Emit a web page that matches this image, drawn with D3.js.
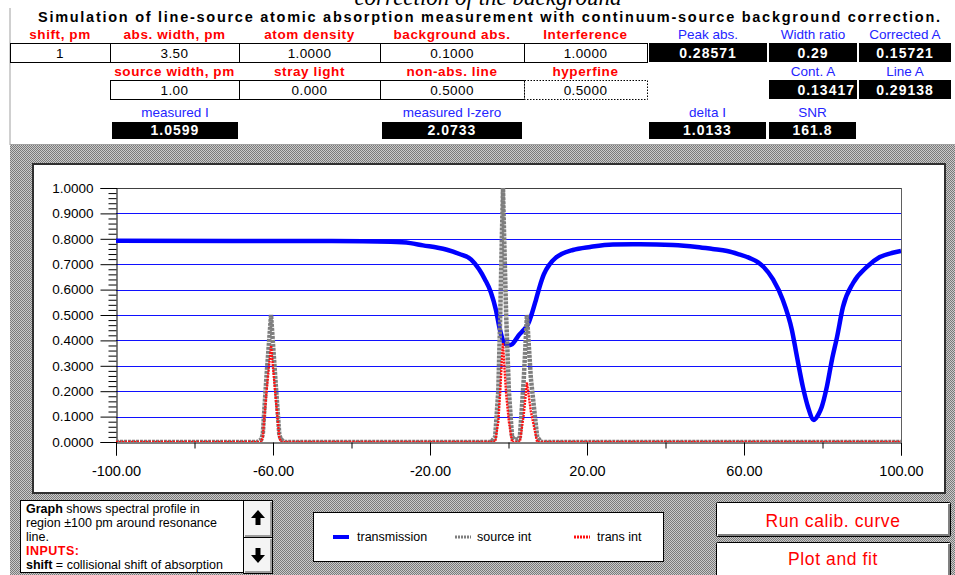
<!DOCTYPE html>
<html>
<head>
<meta charset="utf-8">
<script src="https://cdn.jsdelivr.net/npm/d3@7"></script>
<style>
  body { margin: 0; background: #fff; }
  svg { display: block; }
  text { font-family: "Liberation Sans", Arial, sans-serif; }
</style>
</head>
<body>
<svg id="chart" width="955" height="575"></svg>
<script>
// spreadsheet inputs / outputs
var inputLabels1 = ["shift, pm", "abs. width, pm", "atom density", "background abs.", "Interference"];
var inputValues1 = ["1", "3.50", "1.0000", "0.1000", "1.0000"];
var inputLabels2 = ["source width, pm", "stray light", "non-abs. line", "hyperfine"];
var inputValues2 = ["1.00", "0.000", "0.5000", "0.5000"];
var outLabels1 = ["Peak abs.", "Width ratio", "Corrected A"];
var outValues1 = ["0.28571", "0.29", "0.15721"];
var outLabels2 = ["Cont. A", "Line A"];
var outValues2 = ["0.13417", "0.29138"];
var outLabels3 = ["measured I", "measured I-zero", "delta I", "SNR"];
var outValues3 = ["1.0599", "2.0733", "1.0133", "161.8"];

// axis ticks
var yTicks = [0, 0.1, 0.2, 0.3, 0.4, 0.5, 0.6, 0.7, 0.8, 0.9, 1.0];
var xTicks = [-100, -60, -20, 20, 60, 100];
var xMinorTicks = [-80, -40, 0, 40, 80];

// series: transmission
var transX = [-100, -45, -30, -25, -21.8, -18, -15.7, -12.5, -9.5, -7.5, -6.0, -4.5, -3.2, -2.3, -1.4, -0.3, 0.6, 1.5, 2.5, 3.8, 5.0, 6.0, 7.0, 8.0, 9.0, 10.5, 12.0, 13.5, 16.4, 20.8, 26.6, 33.5, 41.9, 48.0, 52.0, 55.7, 58.5, 61.5, 63.5, 65.0, 67.4, 69.9, 72.2, 73.5, 75.0, 76.3, 77.8, 79.0, 79.8, 81.1, 82.4, 83.7, 85.2, 87.8, 91.3, 94.6, 97.9, 100];
var transY = [0.792, 0.791, 0.788, 0.783, 0.774, 0.765, 0.757, 0.740, 0.718, 0.680, 0.640, 0.590, 0.520, 0.450, 0.400, 0.383, 0.382, 0.395, 0.418, 0.440, 0.465, 0.508, 0.560, 0.615, 0.660, 0.700, 0.725, 0.740, 0.756, 0.768, 0.778, 0.779, 0.776, 0.768, 0.760, 0.752, 0.740, 0.724, 0.708, 0.689, 0.640, 0.559, 0.441, 0.335, 0.217, 0.138, 0.087, 0.110, 0.138, 0.217, 0.323, 0.413, 0.531, 0.626, 0.689, 0.728, 0.745, 0.752];

// series: source int
var sourceX = [-100, -64, -63, -62.6, -61.7, -60.5, -59.4, -58.4, -58, -57, -4.4, -3.4, -2.6, -2.1, -1.7, -1.4, -1.1, -0.6, 0.1, 0.9, 1.5, 2.4, 2.9, 3.9, 4.7, 5.7, 7.3, 8.3, 100];
var sourceY = [0, 0, 0.01, 0.03, 0.25, 0.5, 0.25, 0.03, 0.01, 0, 0, 0.02, 0.2, 0.5, 0.8, 1.0, 0.8, 0.5, 0.2, 0.02, 0.01, 0.01, 0.02, 0.25, 0.5, 0.25, 0.02, 0, 0];

// series: trans int
var transIntX = [-100, -63, -62.6, -61.7, -60.5, -59.4, -58.4, -58, -3.4, -2.6, -2.1, -1.7, -1.4, -1.1, -0.6, 0.1, 0.9, 2.9, 3.9, 4.7, 5.7, 7.3, 100];
var transIntY = [0, 0, 0.02, 0.19, 0.38, 0.19, 0.02, 0, 0, 0.08, 0.2, 0.32, 0.39, 0.31, 0.19, 0.08, 0, 0, 0.11, 0.235, 0.12, 0, 0];

var legendNames = ["transmission", "source int", "trans int"];

var svg = d3.select("#chart");
var defs = svg.append("defs");

var pat = defs.append("pattern").attr("id", "dither")
    .attr("width", 2).attr("height", 2).attr("patternUnits", "userSpaceOnUse");
pat.append("rect").attr("width", 2).attr("height", 2).attr("fill", "#cacaca");
pat.append("rect").attr("width", 1).attr("height", 1).attr("fill", "#7a7a7a");
pat.append("rect").attr("x", 1).attr("y", 1).attr("width", 1).attr("height", 1).attr("fill", "#7a7a7a");

// ---------- header sheet ----------
svg.append("text")
    .attr("x", 488).attr("y", 5)
    .attr("text-anchor", "middle")
    .style("font-family", "'Liberation Serif', 'DejaVu Serif', serif")
    .style("font-style", "italic")
    .style("font-size", "23px")
    .text("correction of the background");

svg.append("text")
    .attr("x", 38).attr("y", 22)
    .attr("textLength", 902).attr("lengthAdjust", "spacing")
    .style("font-size", "14.5px").style("font-weight", "bold")
    .text("Simulation of line-source atomic absorption measurement with continuum-source background correction.");

svg.append("line").attr("x1", 10).attr("x2", 10).attr("y1", 8).attr("y2", 145)
    .attr("stroke", "#a0a0a0");
svg.append("line").attr("x1", 10).attr("x2", 955).attr("y1", 144.5).attr("y2", 144.5)
    .attr("stroke", "#a0a0a0");

var inCols = [10, 110, 239, 380, 524, 647];
var outCols = [648, 768, 858, 952];
var redC = "#ff0000", blueC = "#2424ff";

function label(x, y, txt, color, bold) {
    svg.append("text").attr("x", x).attr("y", y)
        .attr("text-anchor", "middle")
        .attr("fill", color)
        .style("font-size", "13.5px")
        .style("font-weight", bold ? "bold" : "normal")
        .style("letter-spacing", bold ? "0.6px" : "0px")
        .text(txt);
}
function cell(x0, x1, y0, y1, txt, dotted) {
    svg.append("rect").attr("x", x0 + 0.5).attr("y", y0 + 0.5)
        .attr("width", x1 - x0).attr("height", y1 - y0)
        .attr("fill", "#fff").attr("stroke", "#000")
        .attr("stroke-dasharray", dotted ? "1.5 1.5" : null);
    svg.append("text").attr("x", (x0 + x1) / 2).attr("y", y1 - 4.5)
        .attr("text-anchor", "middle")
        .style("font-size", "13.5px").style("letter-spacing", "0.4px")
        .text(txt);
}
function blackBox(x0, x1, y0, y1, txt, right) {
    svg.append("rect").attr("x", x0 + 1).attr("y", y0)
        .attr("width", x1 - x0 - 2).attr("height", y1 - y0)
        .attr("fill", "#000");
    svg.append("text").attr("x", right ? x1 - 3 : (x0 + x1) / 2).attr("y", y1 - 4)
        .attr("text-anchor", right ? "end" : "middle")
        .attr("fill", "#fff")
        .style("font-size", "14px").style("font-weight", "bold").style("letter-spacing", "1px")
        .text(txt);
}

// row 1
inputLabels1.forEach(function(t, i) { label((inCols[i] + inCols[i + 1]) / 2, 39, t, redC, true); });
outLabels1.forEach(function(t, i) { label((outCols[i] + outCols[i + 1]) / 2, 39, t, blueC, false); });
inputValues1.forEach(function(t, i) { cell(inCols[i], inCols[i + 1], 43, 62, t, false); });
outValues1.forEach(function(t, i) { blackBox(outCols[i], outCols[i + 1], 43, 62, t, false); });

// row 2
inputLabels2.forEach(function(t, i) { label((inCols[i + 1] + inCols[i + 2]) / 2, 76, t, redC, true); });
outLabels2.forEach(function(t, i) { label((outCols[i + 1] + outCols[i + 2]) / 2, 76, t, blueC, false); });
inputValues2.forEach(function(t, i) { cell(inCols[i + 1], inCols[i + 2], 80, 99, t, i === 3); });
outValues2.forEach(function(t, i) { blackBox(outCols[i + 1], outCols[i + 2], 80, 99, t, i === 0); });

// row 3
var row3Cols = [[111, 239], [381, 523], [648, 767], [768, 857]];
outLabels3.forEach(function(t, i) { label((row3Cols[i][0] + row3Cols[i][1]) / 2, 117, t, blueC, false); });
outValues3.forEach(function(t, i) { blackBox(row3Cols[i][0], row3Cols[i][1], 122, 139, t, false); });

// ---------- chart sheet ----------
svg.append("rect").attr("x", 10).attr("y", 145).attr("width", 945).attr("height", 430)
    .attr("fill", "url(#dither)");
svg.append("rect").attr("x", 33).attr("y", 164).attr("width", 912).attr("height", 329)
    .attr("fill", "#fff").attr("stroke", "#303030").attr("stroke-width", 2);

var margin = {left: 116, right: 901, top: 188, bottom: 442};
var x = d3.scaleLinear().domain([-100, 100]).range([margin.left, margin.right]);
var y = d3.scaleLinear().domain([0, 1]).range([margin.bottom, margin.top]);

defs.append("clipPath").attr("id", "plotClip")
  .append("rect").attr("x", margin.left).attr("y", margin.top - 3)
    .attr("width", margin.right - margin.left).attr("height", margin.bottom - margin.top + 3);

// grid
svg.append("g").selectAll("line")
    .data(yTicks.filter(function(d) { return d > 0 && d < 1; }))
  .enter().append("line")
    .attr("x1", margin.left).attr("x2", margin.right)
    .attr("y1", function(d) { return Math.round(y(d)) + 0.5; })
    .attr("y2", function(d) { return Math.round(y(d)) + 0.5; })
    .attr("stroke", "#1010ff").attr("stroke-width", 1.2);

svg.append("line").attr("x1", margin.left).attr("x2", margin.right)
    .attr("y1", y(1) + 0.5).attr("y2", y(1) + 0.5).attr("stroke", "#404040");
svg.append("line").attr("x1", margin.right + 0.5).attr("x2", margin.right + 0.5)
    .attr("y1", margin.top).attr("y2", margin.bottom).attr("stroke", "#606060");

// axes
var yMinor = d3.range(0, 1.0001, 0.02).filter(function(d) {
    return Math.abs(d * 10 - Math.round(d * 10)) > 1e-6;
});
var gy = svg.append("g").attr("transform", "translate(" + (margin.left + 0.5) + ",0)")
    .call(d3.axisLeft(y).tickValues(yTicks).tickSize(16).tickPadding(7)
        .tickFormat(function(d) { return d.toFixed(4); }));
svg.append("g").attr("transform", "translate(" + (margin.left + 0.5) + ",0)")
    .call(d3.axisLeft(y).tickValues(yMinor).tickSize(8).tickFormat(""))
    .select(".domain").remove();

var gx = svg.append("g").attr("transform", "translate(0," + (margin.bottom + 0.5) + ")")
    .call(d3.axisBottom(x).tickValues(xTicks).tickSize(13).tickPadding(10)
        .tickFormat(function(d) { return d.toFixed(2); }));
svg.append("g").attr("transform", "translate(0," + (margin.bottom + 0.5) + ")")
    .call(d3.axisBottom(x).tickValues(xMinorTicks).tickSize(6).tickFormat(""))
    .select(".domain").remove();

svg.selectAll(".domain").attr("stroke", "#000");
gy.selectAll("text").style("font-size", "13.5px").attr("fill", "#000")
    .style("font-family", "'Liberation Sans', Arial, sans-serif");
gx.selectAll("text").style("font-size", "14.5px").attr("fill", "#000")
    .style("font-family", "'Liberation Sans', Arial, sans-serif");

// series
var line = d3.line()
    .x(function(d) { return x(d[0]); })
    .y(function(d) { return y(d[1]); });
var plot = svg.append("g").attr("clip-path", "url(#plotClip)");

plot.append("path")
    .datum(d3.zip(transX, transY))
    .attr("fill", "none").attr("stroke", "#0000ff").attr("stroke-width", 4.5)
    .attr("stroke-linejoin", "round")
    .attr("d", line.curve(d3.curveMonotoneX));

line.curve(d3.curveLinear);
plot.append("path")
    .datum(d3.zip(sourceX, sourceY))
    .attr("fill", "none").attr("stroke", "#7e7e7e").attr("stroke-width", 4.5)
    .attr("stroke-dasharray", "3 1")
    .attr("d", line);

plot.append("path")
    .datum(d3.zip(transIntX, transIntY))
    .attr("fill", "none").attr("stroke", "#ff1010").attr("stroke-width", 2.4)
    .attr("stroke-dasharray", "2 1")
    .attr("d", line);

// ---------- bottom controls ----------
// help text box
svg.append("rect").attr("x", 20.5).attr("y", 500.5).attr("width", 223).attr("height", 72)
    .attr("fill", "#fff").attr("stroke", "#000");
var help = svg.append("g").style("font-size", "12.5px");
var t1 = help.append("text").attr("x", 26).attr("y", 513);
t1.append("tspan").style("font-weight", "bold").text("Graph");
t1.append("tspan").text(" shows spectral profile in");
help.append("text").attr("x", 26).attr("y", 527).text("region \u00b1100 pm around resonance");
help.append("text").attr("x", 26).attr("y", 541).text("line.");
help.append("text").attr("x", 26).attr("y", 555).attr("fill", redC)
    .style("font-weight", "bold").style("letter-spacing", "0.5px").text("INPUTS:");
var t5 = help.append("text").attr("x", 26).attr("y", 569);
t5.append("tspan").style("font-weight", "bold").text("shift");
t5.append("tspan").text(" = collisional shift of absorption");

// scroll buttons
[[500, 537, "M258,510 L251,518 L255.5,518 L255.5,525 L260.5,525 L260.5,518 L265,518 Z"],
 [537, 573, "M258,563 L251,555 L255.5,555 L255.5,548 L260.5,548 L260.5,555 L265,555 Z"]]
.forEach(function(b) {
    svg.append("rect").attr("x", 243.5).attr("y", b[0] + 0.5).attr("width", 29).attr("height", b[1] - b[0])
        .attr("fill", "#f4f4f4").attr("stroke", "#000");
    svg.append("path").attr("d", "M" + 245 + "," + (b[1] - 1) + " L271," + (b[1] - 1) + " L271," + (b[0] + 2))
        .attr("fill", "none").attr("stroke", "#808080").attr("stroke-width", 1.5);
    svg.append("path").attr("d", b[2]).attr("fill", "#000");
});

// legend
svg.append("rect").attr("x", 313.5).attr("y", 512.5).attr("width", 350).attr("height", 49)
    .attr("fill", "#fff").attr("stroke", "#000");
var legendStyles = [
    {c: "#0000ff", w: 4, dash: null, lx: 333, tx: 357},
    {c: "#7e7e7e", w: 3, dash: "2 1", lx: 455, tx: 477},
    {c: "#ff1010", w: 3, dash: "2 1", lx: 574, tx: 597}
];
legendNames.forEach(function(n, i) {
    var s = legendStyles[i];
    svg.append("line").attr("x1", s.lx).attr("x2", s.lx + 16).attr("y1", 537).attr("y2", 537)
        .attr("stroke", s.c).attr("stroke-width", s.w).attr("stroke-dasharray", s.dash);
    svg.append("text").attr("x", s.tx).attr("y", 541).style("font-size", "12.5px").text(n);
});

// action buttons
[[502, 536, "Run calib. curve", 527], [542, 580, "Plot and fit", 565]].forEach(function(b) {
    svg.append("rect").attr("x", 716.5).attr("y", b[0] + 0.5).attr("width", 234).attr("height", b[1] - b[0])
        .attr("fill", "#fff").attr("stroke", "#000").attr("rx", 1);
    svg.append("path").attr("d", "M718," + (b[1] - 1) + " L949," + (b[1] - 1) + " L949," + (b[0] + 2))
        .attr("fill", "none").attr("stroke", "#808080").attr("stroke-width", 2);
    svg.append("text").attr("x", 833).attr("y", b[3])
        .attr("text-anchor", "middle").attr("fill", "#ff0000")
        .style("font-size", "17.5px").style("letter-spacing", "0.6px")
        .text(b[2]);
});
</script>
</body>
</html>
